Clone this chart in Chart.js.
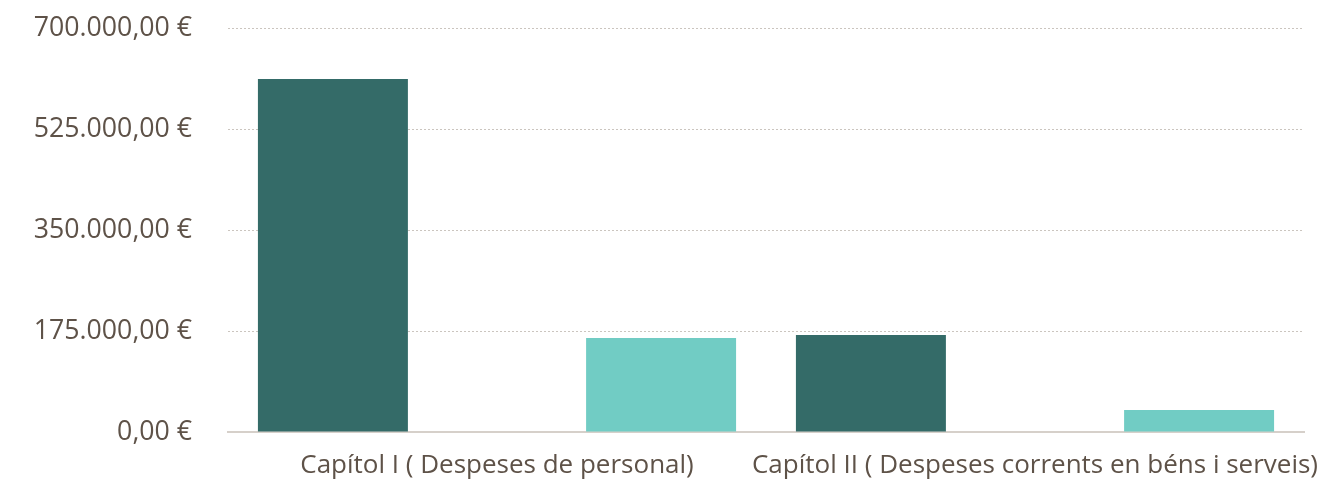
<!DOCTYPE html>
<html>
<head>
<meta charset="utf-8">
<script src="https://cdn.jsdelivr.net/npm/chart.js@4"></script>
<style>
  html, body { margin: 0; padding: 0; background: #fff; }
  #wrap { width: 1343px; height: 493px; }
</style>
</head>
<body>
<div id="wrap"><canvas id="chart"></canvas></div>
<script>
  const categories = ["Capítol I ( Despeses de personal)", "Capítol II ( Despeses corrents en béns i serveis)"];
  const pressupostat = [611600, 168100];
  const executat = [162900, 38100];
  const yTicks = [0, 175000, 350000, 525000, 700000];

  const textColor = "#5e5248";

  function euro(v) {
    return v.toLocaleString("de-DE", { minimumFractionDigits: 2, maximumFractionDigits: 2 }) + " €";
  }

  const ctx = document.getElementById("chart").getContext("2d");
  const chart = new Chart(ctx, {
    type: "bar",
    data: {
      labels: categories,
      datasets: [
        {
          label: "Pressupostat",
          data: pressupostat,
          backgroundColor: "#346b68",
          categoryPercentage: 1.22,
          barPercentage: 0.457,
        },
        {
          label: "Executat",
          data: executat,
          backgroundColor: "#71ccc4",
          categoryPercentage: 1.22,
          barPercentage: 0.457,
        },
      ],
    },
    options: {
      responsive: true,
      maintainAspectRatio: false,
      animation: false,
      layout: { padding: { top: 28, right: 39, left: 0, bottom: 0 } },
      plugins: {
        legend: { display: false },
        tooltip: { enabled: false },
      },
      scales: {
        x: {
          grid: { display: false, drawTicks: false },
          border: { color: "#d6d0ca", width: 2 },
          ticks: {
            color: textColor,
            font: { family: "Open Sans", size: 26 },
            padding: 18,
            maxRotation: 0,
            autoSkip: false,
          },
          afterFit: (scale) => {
            scale.height = 61;
            scale.paddingLeft = 0;
            scale.paddingRight = 0;
          },
        },
        y: {
          min: 0,
          max: 700000,
          afterBuildTicks: (scale) => { scale.ticks = yTicks.map((v) => ({ value: v })); },
          grid: { color: "#cbc5bf", drawTicks: false },
          border: { display: false, dash: [2, 2] },
          ticks: {
            color: textColor,
            font: { family: "Open Sans", size: 26.7 },
            padding: 36,
            callback: (v) => euro(v),
          },
          afterFit: (scale) => {
            scale.width = 228;
            scale.paddingTop = 0;
            scale.paddingBottom = 0;
          },
        },
      },
    },
  });
</script>
</body>
</html>
